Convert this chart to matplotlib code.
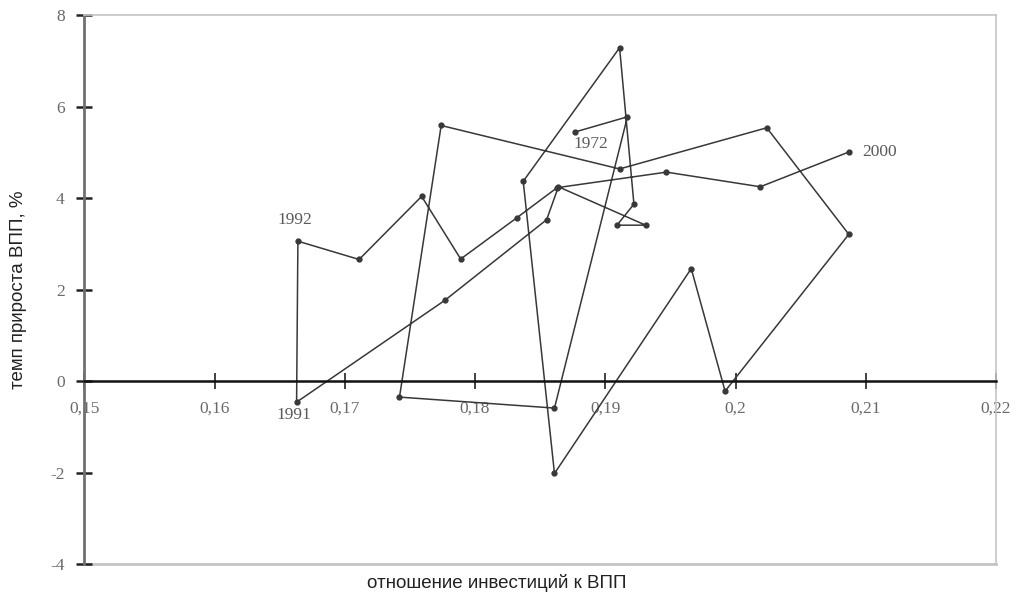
import matplotlib
matplotlib.use('Agg')
import matplotlib.pyplot as plt

# connected scatter, years 1972..2000
years = list(range(1972, 2001))
invest = [0.1877, 0.1917, 0.1861, 0.1742, 0.1774, 0.1911, 0.2024, 0.2087, 0.1992, 0.1966,
          0.1861, 0.1837, 0.1911, 0.1922, 0.1909, 0.1931, 0.1864, 0.1855, 0.1777, 0.1663,
          0.1664, 0.1711, 0.1759, 0.1789, 0.1832, 0.1863, 0.1947, 0.2019, 0.2087]
growth = [5.45, 5.78, -0.59, -0.35, 5.59, 4.64, 5.54, 3.21, -0.22, 2.46,
          -2.02, 4.37, 7.29, 3.87, 3.41, 3.41, 4.25, 3.53, 1.77, -0.46,
          3.06, 2.66, 4.04, 2.67, 3.57, 4.23, 4.57, 4.25, 5.01]

xticks = [0.15, 0.16, 0.17, 0.18, 0.19, 0.20, 0.21, 0.22]
xticklabels = ['0,15', '0,16', '0,17', '0,18', '0,19', '0,2', '0,21', '0,22']
yticks = [-4, -2, 0, 2, 4, 6, 8]
yticklabels = ['-4', '-2', '0', '2', '4', '6', '8']

# which years get a label, and where (offset in points, alignment)
year_labels = {1972: (11.5, -9, 'center'), 1991: (-2, -9, 'center'),
               1992: (-2, 15, 'center'), 2000: (10, 0, 'left')}

serif = 'Liberation Serif'
sans = 'Liberation Sans'
tick_col = '#6a6a6a'
frame_col = '#c4c4c4'

fig = plt.figure(figsize=(10.18, 5.95), dpi=100)
ax = fig.add_axes([84.3 / 1018, 1 - 564 / 595, (996 - 84.3) / 1018, (564 - 15.3) / 595])

ax.plot(invest, growth, color='#383838', lw=1.1, marker='o', ms=3.5)

for yr, (dx, dy, ha) in year_labels.items():
    i = years.index(yr)
    ax.annotate(str(yr), (invest[i], growth[i]), xytext=(dx, dy), textcoords='offset points',
                ha=ha, va='center', fontsize=12.5, family=serif, color='#5a5a5a')

ax.set_xlim(0.15, 0.22)
ax.set_ylim(-4, 8)

ax.spines['bottom'].set_position(('data', 0))
ax.spines['bottom'].set_color('#111111')
ax.spines['bottom'].set_linewidth(1.8)
ax.spines['left'].set_color('#707070')
ax.spines['left'].set_linewidth(2)
for s in ['top', 'right']:
    ax.spines[s].set_color(frame_col)
    ax.spines[s].set_linewidth(1.2)
ax.axhline(-4, color=frame_col, lw=2, clip_on=False, zorder=0)

ax.set_xticks(xticks)
ax.set_xticklabels(xticklabels)
ax.set_yticks(yticks)
ax.set_yticklabels(yticklabels)
ax.tick_params(axis='x', direction='inout', length=12, width=1.3, color='#333333',
               pad=8, labelsize=12.5, labelcolor=tick_col)
ax.tick_params(axis='y', direction='inout', length=12, width=1.8, color='#222222',
               pad=8, labelsize=12.5, labelcolor=tick_col)
for lab in ax.get_xticklabels() + ax.get_yticklabels():
    lab.set_family(serif)

ax.set_xlabel('отношение инвестиций к ВПП', family=sans, fontsize=13.5, color='#222222',
              va='center')
ax.xaxis.set_label_coords(0.4527, -0.0346)
ax.set_ylabel('темп прироста ВПП, %', family=sans, fontsize=13.5, color='#222222',
              va='center')
ax.yaxis.set_label_coords(-0.0727, 0.5)

fig.savefig('out.png', dpi=100)
